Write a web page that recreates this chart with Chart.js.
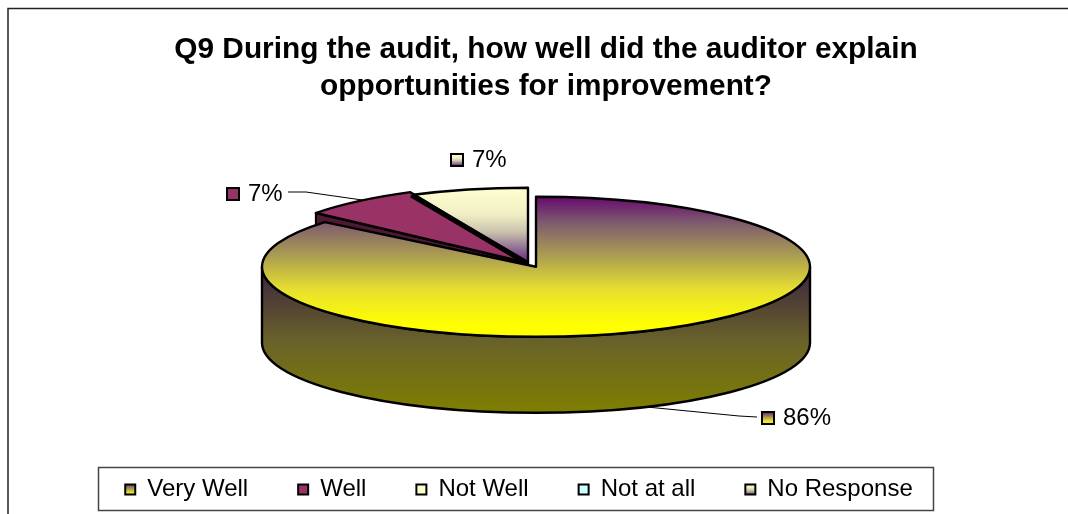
<!DOCTYPE html>
<html>
<head>
<meta charset="UTF-8">
<title>Q9</title>
<script src="https://cdn.jsdelivr.net/npm/chart.js"></script>
<style>
    body { margin: 0; background: #ffffff; }
    #wrap { width: 1068px; height: 514px; }
</style>
</head>
<body>
<div id="wrap"><canvas id="myChart" width="1068" height="514"></canvas></div>
<script>
var categories = ['Very Well', 'Well', 'Not Well', 'Not at all', 'No Response'];
var values = [86, 7, 7, 0, 0];
var titleLines = ['Q9 During the audit, how well did the auditor explain', 'opportunities for improvement?'];

var PLUM = '#993366', CREAM = '#FFFFCC', AQUA = '#CCFFFF';
var FONT = '"Liberation Sans", Arial, sans-serif';

// colour ramps as [position, colour]
var rampMain = [[0, '#660A6E'], [0.2, '#7E5A6E'], [0.47, '#ADA050'], [0.73, '#E8E030'], [1, '#FFFF00']];
var rampCream = [[0, '#FFFFD0'], [0.35, '#F0EEC4'], [0.58, '#CBC2AE'], [0.8, '#8E6E92'], [1, '#662080']];
var rampWall = [[0, '#3A1F40'], [0.52, '#68622A'], [1, '#7F7F00']];

// pie look: squash of the top face, height of the side, pull-out of the slices
var tilt = [70, 78, 76];
var depth = 76;
var explode = [[0, 0], [-9, -4], [-8, -3]];

var ctx = document.getElementById('myChart').getContext('2d');

function grad(y0, y1, ramp) {
    var g = ctx.createLinearGradient(0, y0, 0, y1);
    ramp.forEach(function (s) {
        g.addColorStop(s[0], s[1]);
    });
    return g;
}

function legendFill(i) {
    if (i === 0) return grad(483, 496, rampMain);
    if (i === 1) return PLUM;
    if (i === 2) return CREAM;
    if (i === 3) return AQUA;
    return grad(483, 496, rampCream);
}

function wedge(c, cx, cy, rx, ry, a0, a1) {
    c.beginPath();
    c.moveTo(cx, cy);
    c.ellipse(cx, cy, rx, ry, 0, a0, a1);
    c.closePath();
}

// fill comes from the arc element itself, squashed; the outline keeps an even width.
// shade is [screenTop, screenBottom, ramp] or a plain colour
function drawSlice(c, arc, i, shade) {
    var ry = tilt[i], k = ry / arc.outerRadius;
    var cx = arc.x + explode[i][0], cy = arc.y + explode[i][1];
    var keep = arc.options;
    var fill = shade;
    if (Array.isArray(shade)) {
        fill = grad(arc.y + (shade[0] - cy) / k, arc.y + (shade[1] - cy) / k, shade[2]);
    }
    c.save();
    c.translate(explode[i][0], explode[i][1] + arc.y);
    c.scale(1, k);
    c.translate(0, -arc.y);
    arc.options = Object.assign({}, keep, { backgroundColor: fill, borderWidth: 0 });
    arc.draw(c);
    arc.options = keep;
    c.restore();
    wedge(c, cx, cy, arc.outerRadius, ry, arc.startAngle, arc.endAngle);
    c.lineWidth = 2.4;
    c.lineJoin = 'round';
    c.strokeStyle = '#000000';
    c.stroke();
}

function edgePoint(arc, i, angle) {
    return {
        x: arc.x + explode[i][0] + Math.cos(angle) * arc.outerRadius,
        y: arc.y + explode[i][1] + Math.sin(angle) * tilt[i]
    };
}

var pie3d = {
    id: 'pie3d',
    afterLayout: function (chart) {
        chart.titleBlock.left += 10;
        chart.titleBlock.right += 10;
        chart.legend.left -= 17;
        chart.legend.right -= 17;
        chart.legend.top = 489 - 50 - 14.4 + 3;
        chart.legend.bottom = chart.height;
    },
    beforeDraw: function (chart) {
        var c = chart.ctx;
        c.save();
        c.fillStyle = '#ffffff';
        c.fillRect(0, 0, chart.width, chart.height);
        // outer frame is cut off on the right and at the bottom
        c.strokeStyle = '#222222';
        c.lineWidth = 1.5;
        c.beginPath();
        c.moveTo(8, chart.height);
        c.lineTo(8, 8.5);
        c.lineTo(chart.width, 8.5);
        c.stroke();
        c.strokeStyle = '#444444';
        c.strokeRect(98.5, 467.5, 835, 43);
        c.restore();
    },
    beforeDatasetsDraw: function (chart) {
        var c = chart.ctx;
        var arcs = chart.getDatasetMeta(0).data;
        var main = arcs[0], well = arcs[1], notWell = arcs[2];
        var cx = main.x, cy = main.y, rx = main.outerRadius, ry = tilt[0];

        c.save();

        // cut face of the pulled out slice
        var a = edgePoint(well, 1, well.startAngle);
        var ax = well.x + explode[1][0], ay = well.y + explode[1][1];
        c.beginPath();
        c.moveTo(ax, ay);
        c.lineTo(a.x, a.y);
        c.lineTo(a.x, a.y + depth);
        c.lineTo(ax, ay + depth);
        c.closePath();
        c.fillStyle = '#4D1933';
        c.fill();
        c.lineWidth = 2;
        c.strokeStyle = '#000000';
        c.stroke();

        var nwY = notWell.y + explode[2][1];
        drawSlice(c, notWell, 2, [nwY - tilt[2], nwY, rampCream]);
        drawSlice(c, well, 1, PLUM);

        var e = edgePoint(notWell, 2, notWell.startAngle);
        c.beginPath();
        c.moveTo(e.x, e.y);
        c.lineTo(notWell.x + explode[2][0], nwY);
        c.lineWidth = 5;
        c.stroke();

        // wall of the big slice
        c.beginPath();
        c.ellipse(cx, cy, rx, ry, 0, 0, Math.PI);
        c.lineTo(cx - rx, cy + depth);
        c.ellipse(cx, cy + depth, rx, ry, 0, Math.PI, 0, true);
        c.closePath();
        c.fillStyle = grad(cy - 4, cy + ry + depth, rampWall);
        c.fill();
        c.lineWidth = 2.4;
        c.stroke();

        drawSlice(c, main, 0, [cy - ry, cy + ry - 12, rampMain]);

        c.restore();
        return false;
    },
    afterDraw: function (chart) {
        var c = chart.ctx;
        var arcs = chart.getDatasetMeta(0).data;
        var a86 = edgePoint(arcs[0], 0, arcs[0].startAngle + 2.73);
        var a7 = edgePoint(arcs[1], 1, arcs[1].endAngle - 0.2);

        c.save();
        c.strokeStyle = '#000000';
        c.lineWidth = 1;
        c.beginPath();
        c.moveTo(288, 192);
        c.lineTo(306, 192);
        c.lineTo(a7.x, a7.y);
        c.moveTo(757, 417);
        c.lineTo(739, 416);
        c.lineTo(a86.x, a86.y + depth);
        c.stroke();

        var labels = [
            { i: 0, x: 762, y: 412, fill: grad(412, 424, rampMain) },
            { i: 1, x: 227, y: 188, fill: PLUM },
            { i: 2, x: 451, y: 154, fill: grad(154, 166, rampCream) }
        ];
        labels.forEach(function (l) {
            c.fillStyle = l.fill;
            c.fillRect(l.x, l.y, 12, 12);
            c.strokeStyle = '#000000';
            c.lineWidth = 2;
            c.strokeRect(l.x, l.y, 12, 12);
            c.fillStyle = '#000000';
            c.font = '24px ' + FONT;
            c.textBaseline = 'middle';
            c.textAlign = 'left';
            c.fillText(values[l.i] + '%', l.x + 21, l.y + 6);
        });
        c.restore();
    }
};

new Chart(ctx, {
    type: 'pie',
    data: {
        labels: categories,
        datasets: [{
            data: values,
            backgroundColor: ['#FFFF00', PLUM, CREAM, AQUA, CREAM],
            borderWidth: 0
        }]
    },
    options: {
        responsive: false,
        animation: false,
        radius: 274,
        layout: { padding: { left: 4, right: 0, top: 0, bottom: 33 } },
        plugins: {
            title: {
                display: true,
                text: titleLines,
                color: '#000000',
                font: { family: FONT, size: 29.8, weight: 'bold', lineHeight: 1.25 },
                padding: { top: 31, bottom: 31 }
            },
            legend: {
                position: 'bottom',
                labels: {
                    boxWidth: 10,
                    boxHeight: 10,
                    padding: 50,
                    color: '#000000',
                    font: { family: FONT, size: 24 },
                    generateLabels: function () {
                        return categories.map(function (name, i) {
                            return {
                                text: name,
                                fillStyle: legendFill(i),
                                strokeStyle: '#000000',
                                lineWidth: 2,
                                index: i
                            };
                        });
                    }
                }
            },
            tooltip: { enabled: false }
        }
    },
    plugins: [pie3d]
});
</script>
</body>
</html>
